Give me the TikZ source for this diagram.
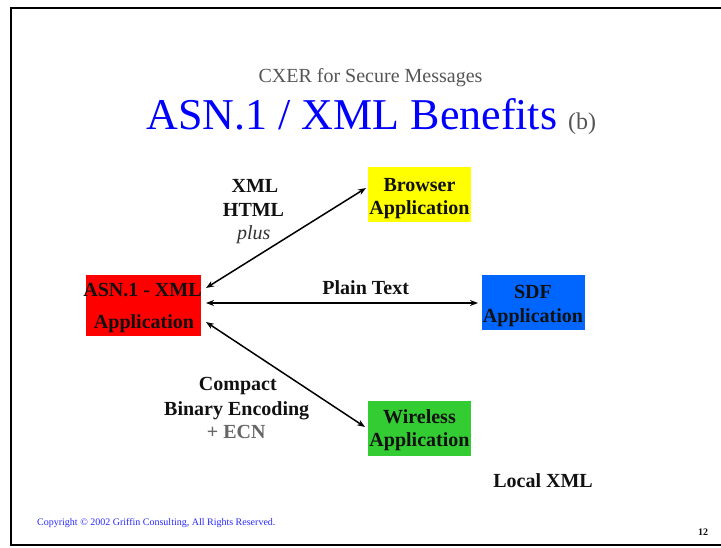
\documentclass[tikz,border=0pt]{standalone}
\usepackage{fontspec}
\setmainfont{Liberation Serif}
\usetikzlibrary{arrows.meta,calc}
\definecolor{boxyellow}{RGB}{255,255,0}
\definecolor{boxblue}{RGB}{0,102,255}
\definecolor{boxred}{RGB}{255,0,0}
\definecolor{boxgreen}{RGB}{51,204,51}
\definecolor{subgray}{RGB}{85,85,85}
\definecolor{ecngray}{RGB}{102,102,102}
\definecolor{plusgray}{RGB}{51,51,51}
\definecolor{textblack}{RGB}{17,17,17}
\definecolor{copyblue}{RGB}{40,40,255}
\definecolor{titleblue}{RGB}{0,0,255}
\begin{document}
\begin{tikzpicture}[x=1pt,y=-1pt,
  appbox/.style={draw=none,inner sep=0pt,outer sep=0pt},
  body/.style={anchor=base,inner sep=0pt,text=textblack,font=\fontsize{20}{24}\selectfont\bfseries},
  arr/.style={line width=1.5pt,{Stealth[length=8pt,width=6pt]}-{Stealth[length=8pt,width=6pt]}}
]
\useasboundingbox (0,0) rectangle (721,548);
% frame
\draw[line width=2pt] (721,8) -- (11,8) -- (11,545) -- (721,545);

% titles
\node[anchor=base,inner sep=0pt,text=subgray,font=\fontsize{20}{24}\selectfont] (sub) at (370.5,83) {CXER for Secure Messages};
\node[anchor=base,inner sep=0pt,text=titleblue,font=\fontsize{44}{50}\selectfont] (title) at (352,130) {ASN.1 / XML Benefits};
\node[anchor=base,inner sep=0pt,text=subgray,font=\fontsize{24}{28}\selectfont] (titleb) at (582,130) {(b)};

% boxes
\node[appbox,fill=boxyellow,minimum width=103pt,minimum height=55pt] (browser) at (419.5,194.5) {};
\node[appbox,fill=boxblue,minimum width=103pt,minimum height=55pt] (sdf) at (533.5,302.5) {};
\node[appbox,fill=boxred,minimum width=115pt,minimum height=61pt] (asn) at (143.5,305.5) {};
\node[appbox,fill=boxgreen,minimum width=103pt,minimum height=55pt] (wireless) at (419.5,428.5) {};

% box texts
\node[body] (browser1) at (419.5,191.5) {Browser};
\node[body] (browser2) at (419.5,214.5) {Application};
\node[body] (sdf1) at (533,299) {SDF};
\node[body] (sdf2) at (533,322.5) {Application};
\node[body] (asn1) at (142.5,296.7) {ASN.1 - XML};
\node[body] (asn2) at (144,328.3) {Application};
\node[body] (wireless1) at (419.5,423.3) {Wireless};
\node[body] (wireless2) at (419.5,446.7) {Application};

% connectors
\draw[arr] ($(asn.east)+(5,-17.5)$) -- ($(browser.west)+(-2,-6.5)$);
\draw[arr] ($(asn.east)+(5,-2.5)$) -- ($(sdf.west)+(-4,0.5)$);
\draw[arr] ($(asn.east)+(5,16.5)$) -- ($(wireless.west)+(-3,-1.5)$);

% labels
\node[body] (lxml) at (255,192.3) {XML};
\node[body] (lhtml) at (253.5,216.7) {HTML};
\node[body,text=plusgray,font=\fontsize{20}{24}\selectfont\itshape] (lplus) at (253.7,240) {plus};
\node[body] (lplain) at (365.7,295) {Plain Text};
\node[body] (lcompact) at (237.8,391) {Compact};
\node[body] (lbinary) at (236.7,415) {Binary Encoding};
\node[body,text=ecngray] (lecn) at (236.3,438.3) {+ ECN};
\node[body] (llocal) at (543,487.6) {Local XML};

% footer
\node[anchor=base west,inner sep=0pt,text=copyblue,font=\fontsize{10}{12}\selectfont] (copy) at (37,525) {Copyright © 2002 Griffin Consulting, All Rights Reserved.};
\node[anchor=base,inner sep=0pt,text=textblack,font=\fontsize{10}{12}\selectfont\bfseries] (pageno) at (703,535) {12};
\end{tikzpicture}
\end{document}
